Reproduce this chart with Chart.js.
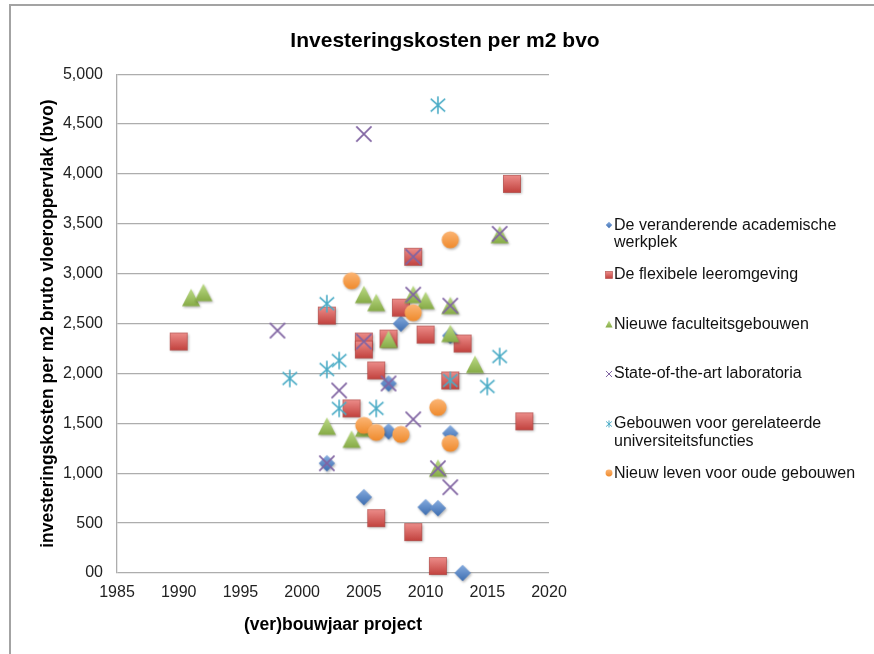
<!DOCTYPE html>
<html>
<head>
<meta charset="utf-8">
<script src="https://cdn.jsdelivr.net/npm/chart.js@4.4.1/dist/chart.umd.min.js"></script>
<style>
  html, body { margin: 0; padding: 0; background: #fff; }
  canvas { display: block; }
</style>
</head>
<body>
<canvas id="chart" width="874" height="654"></canvas>
<script>
// Series labels (split over lines the way the side legend shows them)
const legendLines = [
  ['De veranderende academische', 'werkplek'],
  ['De flexibele leeromgeving'],
  ['Nieuwe faculteitsgebouwen'],
  ['State-of-the-art laboratoria'],
  ['Gebouwen voor gerelateerde', 'universiteitsfuncties'],
  ['Nieuw leven voor oude gebouwen']
];

// Build year per project and cost per m2 bvo, one pair of arrays per series
const werkplekYears   = [2002, 2005, 2007, 2007, 2008, 2010, 2011, 2012, 2012, 2013];
const werkplekCosts   = [1100,  760, 1420, 1900, 2500,  660,  650, 1400, 2380,    0];

const leerYears       = [1990, 2002, 2004, 2005, 2005, 2006, 2006, 2007, 2008, 2009, 2009, 2010, 2011, 2012, 2013, 2017, 2018];
const leerCosts       = [2320, 2580, 1650, 2320, 2240, 2030,  550, 2350, 2660, 3170,  410, 2390,   70, 1930, 2300, 3900, 1520];

const faculteitYears  = [1991, 1992, 2002, 2004, 2005, 2005, 2006, 2007, 2009, 2010, 2011, 2012, 2012, 2014, 2016];
const faculteitCosts  = [2760, 2810, 1470, 1340, 2790, 1450, 2710, 2340, 2790, 2730, 1050, 2680, 2400, 2090, 3390];

const laboYears       = [1998, 2002, 2003, 2005, 2005, 2007, 2009, 2009, 2009, 2011, 2012, 2012, 2016];
const laboCosts       = [2430, 1100, 1830, 4400, 2320, 1900, 3170, 2790, 1540, 1050,  860, 2680, 3400];

const functieYears    = [1999, 2002, 2002, 2003, 2003, 2006, 2011, 2012, 2015, 2016];
const functieCosts    = [1950, 2700, 2040, 2130, 1650, 1650, 4690, 1930, 1870, 2170];

const oudYears        = [2004, 2005, 2006, 2008, 2009, 2011, 2012, 2012];
const oudCosts        = [2930, 1480, 1410, 1390, 2610, 1660, 3340, 1300];

// Axis ticks
const yearTicks = [1985, 1990, 1995, 2000, 2005, 2010, 2015, 2020];
const costTicks = [0, 500, 1000, 1500, 2000, 2500, 3000, 3500, 4000, 4500, 5000];

const FONT = "'Liberation Sans', Arial, Helvetica, sans-serif";
Chart.defaults.font.family = FONT;
Chart.defaults.color = '#222';

// Office-style marker glyphs rendered to small canvases
function makeMarker(kind, k, withShadow) {
  const c = document.createElement('canvas');
  const half = Math.ceil(11 * k + 4);
  c.width = c.height = half * 2;
  const g = c.getContext('2d');
  g.translate(half, half);
  if (withShadow) {
    g.shadowColor = 'rgba(0,0,0,0.28)';
    g.shadowBlur = 2.5;
    g.shadowOffsetX = 1;
    g.shadowOffsetY = 1.5;
  }
  const grad = (top, bottom, r) => {
    const gr = g.createLinearGradient(0, -r, 0, r);
    gr.addColorStop(0, top);
    gr.addColorStop(1, bottom);
    return gr;
  };
  switch (kind) {
    case 'diamond': {
      const r = 8.2 * k;
      g.beginPath();
      g.moveTo(0, -r); g.lineTo(r, 0); g.lineTo(0, r); g.lineTo(-r, 0);
      g.closePath();
      g.fillStyle = grad('#86acdf', '#3d6db0', r);
      g.fill();
      break;
    }
    case 'square': {
      const r = 8.6 * k;
      g.fillStyle = grad('#ec8c89', '#c2423e', r);
      g.fillRect(-r, -r, 2 * r, 2 * r);
      g.shadowColor = 'transparent';
      g.strokeStyle = 'rgba(170,55,52,0.7)';
      g.lineWidth = 0.8;
      g.strokeRect(-r, -r, 2 * r, 2 * r);
      break;
    }
    case 'triangle': {
      const r = 9 * k;
      g.beginPath();
      g.moveTo(0, -r); g.lineTo(r, 0.95 * r); g.lineTo(-r, 0.95 * r);
      g.closePath();
      g.fillStyle = grad('#bddc88', '#84a944', r);
      g.fill();
      break;
    }
    case 'cross': {
      const r = 7.6 * k;
      g.strokeStyle = '#8064a2';
      g.lineWidth = Math.max(1, 1.7 * k);
      g.beginPath();
      g.moveTo(-r, -r); g.lineTo(r, r);
      g.moveTo(r, -r); g.lineTo(-r, r);
      g.stroke();
      break;
    }
    case 'star': {
      const r = 8.8 * k, d = 7.2 * k, e = 6.4 * k;
      g.strokeStyle = '#4bacc6';
      g.lineWidth = Math.max(1, 1.6 * k);
      g.beginPath();
      g.moveTo(0, -r); g.lineTo(0, r);
      g.moveTo(-d, -e); g.lineTo(d, e);
      g.moveTo(d, -e); g.lineTo(-d, e);
      g.stroke();
      break;
    }
    case 'circle': {
      const r = 8.6 * k;
      g.beginPath();
      g.arc(0, 0, r, 0, Math.PI * 2);
      g.fillStyle = grad('#fcb676', '#ef8a2c', r);
      g.fill();
      break;
    }
  }
  return c;
}

const markerKinds = ['diamond', 'square', 'triangle', 'cross', 'star', 'circle'];
const pointIcons  = markerKinds.map(m => makeMarker(m, 1, m !== 'cross' && m !== 'star'));
const legendIcons = markerKinds.map(m => makeMarker(m, 0.4, false));

const seriesYears = [werkplekYears, leerYears, faculteitYears, laboYears, functieYears, oudYears];
const seriesCosts = [werkplekCosts, leerCosts, faculteitCosts, laboCosts, functieCosts, oudCosts];

const datasets = seriesYears.map((years, i) => ({
  label: legendLines[i].join(' '),
  data: years.map((yr, j) => ({ x: yr, y: seriesCosts[i][j] })),
  pointStyle: pointIcons[i],
  pointRadius: 9,
  clip: false,
  order: seriesYears.length - 1 - i   // later series drawn on top
}));

// White page with a thin grey frame
const framePlugin = {
  id: 'frame',
  beforeDraw(chart) {
    const { ctx, width, height } = chart;
    ctx.save();
    ctx.fillStyle = '#fff';
    ctx.fillRect(0, 0, width, height);
    ctx.strokeStyle = '#a3a3a3';
    ctx.lineWidth = 2;
    ctx.strokeRect(10, 5, width + 20, height + 20);
    ctx.restore();
  }
};

// Legend at the right, with wrapped labels
const sideLegend = {
  id: 'sideLegend',
  afterDraw(chart) {
    const { ctx, chartArea } = chart;
    const mx = chartArea.right + 60;
    const y0 = chartArea.top + 151;
    ctx.save();
    ctx.font = '16px ' + FONT;
    ctx.fillStyle = '#111';
    ctx.textBaseline = 'middle';
    ctx.textAlign = 'left';
    legendLines.forEach((lines, i) => {
      const y = y0 + i * 49.6;
      const icon = legendIcons[i];
      ctx.drawImage(icon, Math.round(mx - icon.width / 2), Math.round(y - icon.height / 2));
      lines.forEach((t, j) => ctx.fillText(t, mx + 5, y + j * 17.5));
    });
    ctx.restore();
  }
};

new Chart(document.getElementById('chart'), {
  type: 'scatter',
  data: { datasets },
  options: {
    responsive: false,
    animation: false,
    devicePixelRatio: 1,
    layout: { padding: { left: 16, top: 0, right: 0, bottom: 0 } },
    plugins: {
      legend: { display: false },
      tooltip: { enabled: false },
      title: {
        display: true,
        text: 'Investeringskosten per m2 bvo',
        color: '#000',
        font: { size: 21, weight: 'bold' },
        padding: { top: 29, bottom: 20 }
      }
    },
    scales: {
      x: {
        type: 'linear',
        position: 'bottom',
        min: yearTicks[0],
        max: yearTicks[yearTicks.length - 1],
        afterBuildTicks: s => { s.ticks = yearTicks.map(v => ({ value: v })); },
        ticks: { padding: 10, font: { size: 16 }, color: '#222', callback: v => String(v) },
        grid: { display: false, drawTicks: false },
        border: { display: false },
        title: {
          display: true,
          text: '(ver)bouwjaar project',
          color: '#000',
          font: { size: 17.5, weight: 'bold' },
          padding: { top: 0, bottom: 18.5 }
        },
        afterFit: s => { s.height = 81; }
      },
      y: {
        type: 'linear',
        position: 'left',
        min: costTicks[0],
        max: costTicks[costTicks.length - 1],
        afterBuildTicks: s => { s.ticks = costTicks.map(v => ({ value: v })); },
        ticks: {
          padding: 14,
          font: { size: 16 },
          color: '#222',
          callback: v => v === 0 ? '00' : v.toLocaleString('en-US')
        },
        grid: { color: '#adadad', lineWidth: 1.3, drawTicks: false },
        border: { display: true, color: '#adadad', width: 1.3 },
        title: {
          display: true,
          text: 'investeringskosten per m2 bruto vloeroppervlak (bvo)',
          color: '#000',
          font: { size: 17.5, weight: 'bold' },
          padding: { top: 21.5, bottom: 0 }
        },
        afterFit: s => { s.width = 101; }
      },
      legendSpace: {
        type: 'linear',
        position: 'right',
        display: true,
        grid: { display: false, drawTicks: false },
        ticks: { display: false },
        border: { display: false },
        afterFit: s => { s.width = 325; }
      }
    }
  },
  plugins: [framePlugin, sideLegend]
});
</script>
</body>
</html>
